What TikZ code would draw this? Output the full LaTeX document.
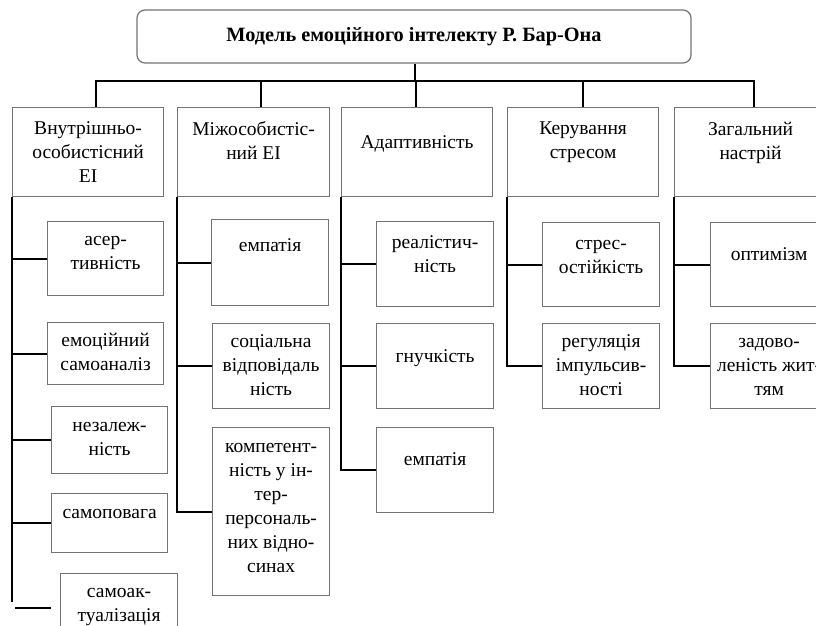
\documentclass[tikz,border=0pt]{standalone}
\usepackage{fontspec}
\setmainfont{Liberation Serif}

% box text: width, height, first baseline, text
\newcommand{\celltext}[4]{\begin{minipage}[t][#2pt][t]{#1pt}\centering\rule{0pt}{#3pt}#4\end{minipage}}

\tikzset{
  cell/.style={draw=black!55, line width=1.2pt, inner sep=0pt, anchor=north west, font=\fontsize{19.5}{24}\selectfont},
  head/.style={draw=black!55, line width=1.2pt, rounded corners=8pt, minimum width=554pt, minimum height=53pt, font=\bfseries\fontsize{20.3}{24}\selectfont},
  conn/.style={line width=2.2pt}
}

\begin{document}
\begin{tikzpicture}[x=1pt,y=1pt,yscale=-1]
\useasboundingbox (0,0) rectangle (816,626);
\clip (0,0) rectangle (816,626);

%Rounded Rect
\node[head] (model) at (414,36.5) {Модель емоційного інтелекту Р. Бар-Она};

%Shape: Rectangle, first level
\node[cell] (intra) at (12,107) {\celltext{151}{89}{27}{Внутрішньо-\\особистісний\\ЕІ}};
\node[cell] (inter) at (177,107) {\celltext{152}{89}{28}{Міжособистіс-\\ний ЕІ}};
\node[cell] (adapt) at (341,107) {\celltext{151}{89}{41}{Адаптивність}};
\node[cell] (stress) at (507,107) {\celltext{151}{89}{27}{Керування\\стресом}};
\node[cell] (mood) at (674,107) {\celltext{152}{89}{28}{Загальний\\настрій}};

%Shape: Rectangle, column 1
\node[cell] (assert) at (47,221) {\celltext{116}{74}{23.5}{асер-\\тивність}};
\node[cell] (analysis) at (47,322) {\celltext{116}{62}{23.5}{емоційний\\самоаналіз}};
\node[cell] (indep) at (51,406) {\celltext{116}{67}{24.5}{незалеж-\\ність}};
\node[cell] (respect) at (51,493) {\celltext{116}{59}{24.5}{самоповага}};
\node[cell] (actual) at (60,573) {\celltext{117}{84}{23.5}{самоак-\\туалізація}};

%Shape: Rectangle, column 2
\node[cell] (empathy) at (211,219) {\celltext{117}{86}{31.5}{емпатія}};
\node[cell] (social) at (212,323) {\celltext{117}{85}{23.5}{соціальна\\відповідаль\\ність}};
\node[cell] (compet) at (212,427) {\celltext{117}{168}{24.5}{компетент-\\ність у ін-\\тер-\\персональ-\\них відно-\\синах}};

%Shape: Rectangle, column 3
\node[cell] (real) at (376,221) {\celltext{117}{85}{26.5}{реалістич-\\ність}};
\node[cell] (flex) at (376,323) {\celltext{117}{85}{38.5}{гнучкість}};
\node[cell] (empathyb) at (376,427) {\celltext{117}{85}{37.5}{емпатія}};

%Shape: Rectangle, column 4
\node[cell] (resist) at (542,222) {\celltext{117}{84}{26.5}{стрес-\\остійкість}};
\node[cell] (impulse) at (542,323) {\celltext{117}{85}{23.5}{регуляція\\імпульсив-\\ності}};

%Shape: Rectangle, column 5
\node[cell] (optim) at (710,222) {\celltext{117}{84}{37.5}{оптимізм}};
\node[cell] (satisf) at (710,323) {\celltext{117}{85}{23.5}{задово-\\леність жит-\\тям}};

%Straight Lines, bus
\coordinate (bus) at (415,81);
\draw[conn] (model.south -| bus) -- (bus);
\draw[conn] ([xshift=7.5pt]intra.north) |- (bus) -| ([xshift=3pt]mood.north);
\foreach \n/\s in {inter/7pt, adapt/-1.5pt, stress/0pt}
  \draw[conn] ([xshift=\s]\n.north) -- ([xshift=\s]\n.north |- bus);

%Straight Lines, column 1
\coordinate (intraend) at (12,602);
\coordinate (strayA) at (15,608);
\coordinate (strayB) at (51,608);
\draw[conn] (intra.south west) -- (intraend);
\foreach \c in {assert, analysis, indep, respect}
  \draw[conn] (intra.south west |- \c.west) -- (\c.west);
\draw[conn] (strayA) -- (strayB);

%Straight Lines, column 2
\draw[conn] (inter.south west) |- (compet.west);
\foreach \c in {empathy, social}
  \draw[conn] (inter.south west |- \c.west) -- (\c.west);

%Straight Lines, column 3
\draw[conn] (adapt.south west) |- (empathyb.west);
\foreach \c in {real, flex}
  \draw[conn] (adapt.south west |- \c.west) -- (\c.west);

%Straight Lines, column 4
\draw[conn] (stress.south west) |- (impulse.west);
\draw[conn] (stress.south west |- resist.west) -- (resist.west);

%Straight Lines, column 5
\draw[conn] (mood.south west) |- (satisf.west);
\draw[conn] (mood.south west |- optim.west) -- (optim.west);

\end{tikzpicture}
\end{document}
